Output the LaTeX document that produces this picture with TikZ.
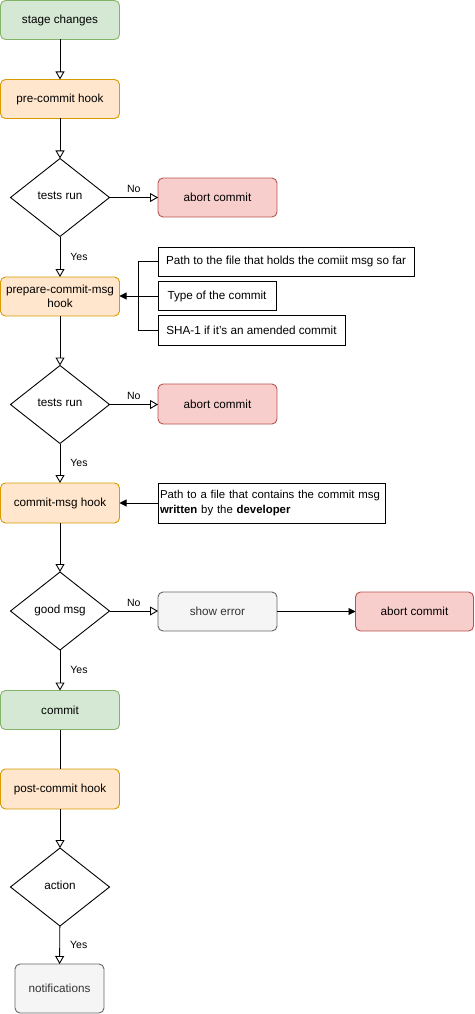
\documentclass[tikz,border=0pt]{standalone}
\usepackage{fontspec}
\setmainfont{Liberation Sans}
\usetikzlibrary{arrows.meta,shapes.geometric}
\definecolor{gfill}{HTML}{D5E8D4}
\definecolor{gdraw}{HTML}{82B366}
\definecolor{ofill}{HTML}{FFE6CC}
\definecolor{odraw}{HTML}{D79B00}
\definecolor{rfill}{HTML}{F8CECC}
\definecolor{rdraw}{HTML}{B85450}
\definecolor{sfill}{HTML}{F5F5F5}
\definecolor{sdraw}{HTML}{666666}
\definecolor{stext}{HTML}{333333}
\newcommand{\dtext}[1]{\raisebox{3pt}{#1}}
\tikzset{
  box/.style={rectangle, rounded corners=5pt, draw, line width=0.9pt, minimum width=119pt, minimum height=39pt, inner sep=0pt, outer sep=0pt, font=\fontsize{11.7}{13.5}\selectfont, align=center},
  greenbox/.style={box, fill=gfill, draw=gdraw},
  orangebox/.style={box, fill=ofill, draw=odraw},
  redbox/.style={box, fill=rfill, draw=rdraw},
  greybox/.style={box, fill=sfill, draw=sdraw, text=stext},
  dia/.style={diamond, draw, line width=0.9pt, minimum width=99pt, minimum height=78pt, inner sep=0pt, outer sep=0pt, font=\fontsize{11.7}{13.5}\selectfont},
  info/.style={rectangle, draw, line width=0.9pt, inner sep=0pt, outer sep=0pt, font=\fontsize{11.7}{13.5}\selectfont},
  flow/.style={draw, line width=0.9pt, -{Triangle[open, length=8pt, width=9pt]}},
  plain/.style={draw, line width=0.9pt},
  feed/.style={draw, line width=0.9pt, -{Triangle[length=7pt, width=7pt]}},
  lbl/.style={font=\fontsize{10.5}{12}\selectfont, inner sep=0pt}
}
\begin{document}
\begin{tikzpicture}[x=1pt, y=-1pt]
\useasboundingbox (0,0) rectangle (474,1014);
% main column
\node[greenbox] (stage) at (60,20) {stage changes};
\node[orangebox] (pre) at (60,99) {pre-commit hook};
\node[dia] (d1) at (60,197.5) {\dtext{tests run}};
\node[redbox] (ab1) at (217.5,197.5) {abort commit};
\node[orangebox] (prep) at (60,296.5) {prepare-commit-msg\\hook};
\node[info, minimum width=256pt, minimum height=29pt] (i1) at (286,261.5) {Path to the file that holds the comiit msg so far};
\node[info, minimum width=118pt, minimum height=29pt] (i2) at (217,296) {Type of the commit};
\node[info, minimum width=187pt, minimum height=30pt] (i3) at (251.5,330) {SHA-1 if it's an amended commit};
\node[dia] (d2) at (60,404.5) {\dtext{tests run}};
\node[redbox, minimum height=40pt] (ab2) at (217.5,404) {abort commit};
\node[orangebox, minimum height=40pt] (cmsg) at (60,503) {commit-msg hook};
\node[info, minimum height=40pt, text width=223pt, inner xsep=2pt, align=left, font=\fontsize{11.4}{14.5}\selectfont] (i4) at (271.5,503) {\mbox{Path to a file that contains the commit msg}\\\textbf{written} by the \textbf{developer}};
\node[dia] (d3) at (60,611) {\dtext{good msg}};
\node[greybox] (err) at (217.5,611.5) {show error};
\node[redbox, minimum width=118pt] (ab3) at (414.5,611.5) {abort commit};
\node[greenbox] (commit) at (60,710) {commit};
\node[orangebox, minimum height=40pt] (post) at (60,789) {post-commit hook};
\node[dia] (d4) at (60,887) {\dtext{action}};
\node[greybox, minimum width=89pt, minimum height=49pt] (notif) at (59.5,988.5) {notifications};
% connectors
\draw[flow] (stage) -- (pre);
\draw[flow] (pre) -- (d1);
\draw[flow] (d1) -- node[lbl, above=4pt] {No} (ab1);
\draw[flow] (d1) -- node[lbl, right=10pt] {Yes} (prep);
\draw[plain] (i1.west) -- ++(-20,0) |- (i3.west);
\draw[feed] (i2.west) -- (prep.east |- i2.west);
\draw[flow] (prep) -- (d2);
\draw[flow] (d2) -- node[lbl, above=4pt] {No} (ab2.west |- d2.east);
\draw[flow] (d2) -- node[lbl, right=10pt] {Yes} (cmsg);
\draw[feed] (i4) -- (cmsg);
\draw[flow] (cmsg) -- (d3);
\draw[flow] (d3) -- node[lbl, above=4pt] {No} (err.west |- d3.east);
\draw[feed] (err) -- (ab3);
\draw[flow] (d3) -- node[lbl, right=10pt] {Yes} (commit);
\draw[plain] (commit) -- (post);
\draw[flow] (post) -- (d4);
\draw[flow] (d4) -- node[lbl, right=10pt] {Yes} (notif);
\end{tikzpicture}
\end{document}
